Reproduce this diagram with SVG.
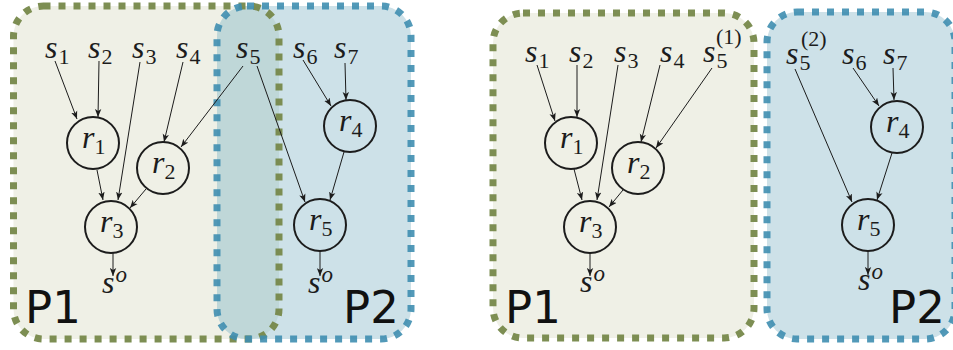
<svg xmlns="http://www.w3.org/2000/svg" width="953" height="350" viewBox="0 0 953 350">
  <defs>
    <style>
      .bg { fill: #ffffff; }
      .fill-p1 { fill: #eff0e6; }
      .fill-p2 { fill: #cde1e8; }
      .fill-ov { fill: #bfd7d8; }
      .edge-p1 { fill: none; stroke: #76884a; stroke-width: 7; stroke-dasharray: 7 8; stroke-opacity: 0.95; }
      .edge-p2 { fill: none; stroke: #3f8eb0; stroke-width: 7; stroke-dasharray: 7 8; stroke-opacity: 0.9; }
      .op { fill: none; stroke: #1c1c1c; stroke-width: 2; }
      text { font-family: "Liberation Serif", "Times New Roman", "DejaVu Serif", serif; fill: #1c1c1c; }
      .m { font-style: italic; font-size: 32px; }
      .n { font-style: normal; font-size: 22px; }
      .ni { font-style: italic; font-size: 23px; }
      .part { font-family: "DejaVu Sans", "Liberation Sans", sans-serif; font-size: 45px; fill: #111111; }
      .conn line { stroke: #1c1c1c; stroke-width: 1; marker-end: url(#tip); }
    </style>
    <marker id="tip" markerUnits="userSpaceOnUse" markerWidth="9" markerHeight="7" refX="8" refY="3.5" orient="auto">
      <path d="M0,0.3 L8,3.5 L0,6.7 L2,3.5 Z" fill="#1c1c1c"/>
    </marker>
    <clipPath id="clip-left-p1">
      <rect x="13.5" y="6" width="265.5" height="333" rx="30" ry="30"/>
    </clipPath>
  </defs>

  <rect class="bg" x="0" y="0" width="953" height="350"/>

  <!-- left panel: overlapping partitions -->
  <g id="left-partitions">
    <rect id="left-p1-area" class="fill-p1" x="13.5" y="6" width="265.5" height="333" rx="30" ry="30"/>
    <rect id="left-p2-area" class="fill-p2" x="217" y="6" width="194" height="333" rx="30" ry="30"/>
    <rect id="left-overlap" class="fill-ov" x="217" y="6" width="194" height="333" rx="30" ry="30" clip-path="url(#clip-left-p1)"/>
    <rect class="edge-p1" x="13.5" y="6" width="265.5" height="333" rx="30" ry="30"/>
    <rect class="edge-p2" x="217" y="6" width="194" height="333" rx="30" ry="30"/>
  </g>

  <!-- right panel: disjoint partitions -->
  <g id="right-partitions">
    <rect id="right-p1-area" class="fill-p1" x="493" y="13" width="261" height="325" rx="30" ry="30"/>
    <rect id="right-p2-area" class="fill-p2" x="767" y="12" width="188" height="327" rx="30" ry="30"/>
    <rect class="edge-p1" x="493" y="13" width="261" height="325" rx="30" ry="30"/>
    <rect class="edge-p2" x="767" y="12" width="188" height="327" rx="30" ry="30"/>
  </g>

  <!-- connectors -->
  <g id="connectors" class="conn">
    <!-- left -->
    <line x1="55" y1="61" x2="77" y2="119"/>
    <line x1="99" y1="61" x2="98" y2="117"/>
    <line x1="140" y1="62" x2="118" y2="200"/>
    <line x1="183" y1="62" x2="164" y2="142"/>
    <line x1="243" y1="66" x2="181" y2="147"/>
    <line x1="257" y1="66" x2="305" y2="202"/>
    <line x1="303" y1="60" x2="331" y2="106"/>
    <line x1="345" y1="63" x2="346" y2="100"/>
    <line x1="344" y1="152" x2="330" y2="200"/>
    <line x1="97" y1="170" x2="103" y2="200"/>
    <line x1="146" y1="189" x2="130" y2="208"/>
    <line x1="113" y1="253" x2="113" y2="276"/>
    <line x1="320" y1="251" x2="320" y2="276"/>
    <!-- right -->
    <line x1="537" y1="65" x2="555" y2="121"/>
    <line x1="577" y1="65" x2="577" y2="117"/>
    <line x1="618" y1="65" x2="597" y2="200"/>
    <line x1="660" y1="65" x2="641" y2="142"/>
    <line x1="712" y1="68" x2="656" y2="148"/>
    <line x1="795" y1="69" x2="852" y2="202"/>
    <line x1="853" y1="68" x2="879" y2="106"/>
    <line x1="893" y1="68" x2="894" y2="100"/>
    <line x1="892" y1="153" x2="877" y2="200"/>
    <line x1="574" y1="169" x2="582" y2="200"/>
    <line x1="623" y1="190" x2="609" y2="207"/>
    <line x1="590" y1="253" x2="590" y2="276"/>
    <line x1="868" y1="251" x2="868" y2="275"/>
  </g>

  <!-- left panel nodes -->
  <g id="l-s1"><text class="m" x="45" y="58">s<tspan class="n" dx="1" dy="6">1</tspan></text></g>
  <g id="l-s2"><text class="m" x="88" y="58">s<tspan class="n" dx="1" dy="6">2</tspan></text></g>
  <g id="l-s3"><text class="m" x="132" y="58">s<tspan class="n" dx="1" dy="6">3</tspan></text></g>
  <g id="l-s4"><text class="m" x="176" y="58">s<tspan class="n" dx="1" dy="6">4</tspan></text></g>
  <g id="l-s5"><text class="m" x="236" y="58">s<tspan class="n" dx="1" dy="6">5</tspan></text></g>
  <g id="l-s6"><text class="m" x="293" y="58">s<tspan class="n" dx="1" dy="6">6</tspan></text></g>
  <g id="l-s7"><text class="m" x="334" y="58">s<tspan class="n" dx="1" dy="6">7</tspan></text></g>
  <g id="l-r1"><circle class="op" cx="93" cy="143" r="26"/><text class="m" x="82" y="148">r<tspan class="n" dy="6">1</tspan></text></g>
  <g id="l-r2"><circle class="op" cx="163" cy="168" r="26"/><text class="m" x="152" y="173">r<tspan class="n" dy="6">2</tspan></text></g>
  <g id="l-r3"><circle class="op" cx="111" cy="227" r="26"/><text class="m" x="100" y="232">r<tspan class="n" dy="6">3</tspan></text></g>
  <g id="l-r4"><circle class="op" cx="350" cy="126" r="26"/><text class="m" x="339" y="131">r<tspan class="n" dy="6">4</tspan></text></g>
  <g id="l-r5"><circle class="op" cx="320" cy="225" r="26"/><text class="m" x="309" y="230">r<tspan class="n" dy="6">5</tspan></text></g>
  <g id="l-so1"><text class="m" x="102" y="293">s<tspan class="ni" dx="1" dy="-11">o</tspan></text></g>
  <g id="l-so2"><text class="m" x="308" y="293">s<tspan class="ni" dx="1" dy="-11">o</tspan></text></g>
  <text class="part" x="25" y="323">P1</text>
  <text class="part" x="343" y="323">P2</text>

  <!-- right panel nodes -->
  <g id="r-s1"><text class="m" x="525" y="62">s<tspan class="n" dx="1" dy="6">1</tspan></text></g>
  <g id="r-s2"><text class="m" x="569" y="62">s<tspan class="n" dx="1" dy="6">2</tspan></text></g>
  <g id="r-s3"><text class="m" x="614" y="62">s<tspan class="n" dx="1" dy="6">3</tspan></text></g>
  <g id="r-s4"><text class="m" x="660" y="62">s<tspan class="n" dx="1" dy="6">4</tspan></text></g>
  <g id="r-s5a"><text class="m" x="703" y="62">s<tspan class="n" dx="1" dy="6">5</tspan><tspan class="n" x="716" y="44">(1)</tspan></text></g>
  <g id="r-s5b"><text class="m" x="786" y="64">s<tspan class="n" dx="1" dy="6">5</tspan><tspan class="n" x="801" y="46">(2)</tspan></text></g>
  <g id="r-s6"><text class="m" x="842" y="64">s<tspan class="n" dx="1" dy="6">6</tspan></text></g>
  <g id="r-s7"><text class="m" x="883" y="64">s<tspan class="n" dx="1" dy="6">7</tspan></text></g>
  <g id="r-r1"><circle class="op" cx="571" cy="143" r="26"/><text class="m" x="560" y="148">r<tspan class="n" dy="6">1</tspan></text></g>
  <g id="r-r2"><circle class="op" cx="638" cy="168" r="26"/><text class="m" x="627" y="173">r<tspan class="n" dy="6">2</tspan></text></g>
  <g id="r-r3"><circle class="op" cx="590" cy="227" r="26"/><text class="m" x="579" y="232">r<tspan class="n" dy="6">3</tspan></text></g>
  <g id="r-r4"><circle class="op" cx="897" cy="127" r="26"/><text class="m" x="886" y="132">r<tspan class="n" dy="6">4</tspan></text></g>
  <g id="r-r5"><circle class="op" cx="868" cy="225" r="26"/><text class="m" x="857" y="230">r<tspan class="n" dy="6">5</tspan></text></g>
  <g id="r-so1"><text class="m" x="580" y="292">s<tspan class="ni" dx="1" dy="-11">o</tspan></text></g>
  <g id="r-so2"><text class="m" x="858" y="290">s<tspan class="ni" dx="1" dy="-11">o</tspan></text></g>
  <text class="part" x="505" y="323">P1</text>
  <text class="part" x="889" y="323">P2</text>
</svg>
